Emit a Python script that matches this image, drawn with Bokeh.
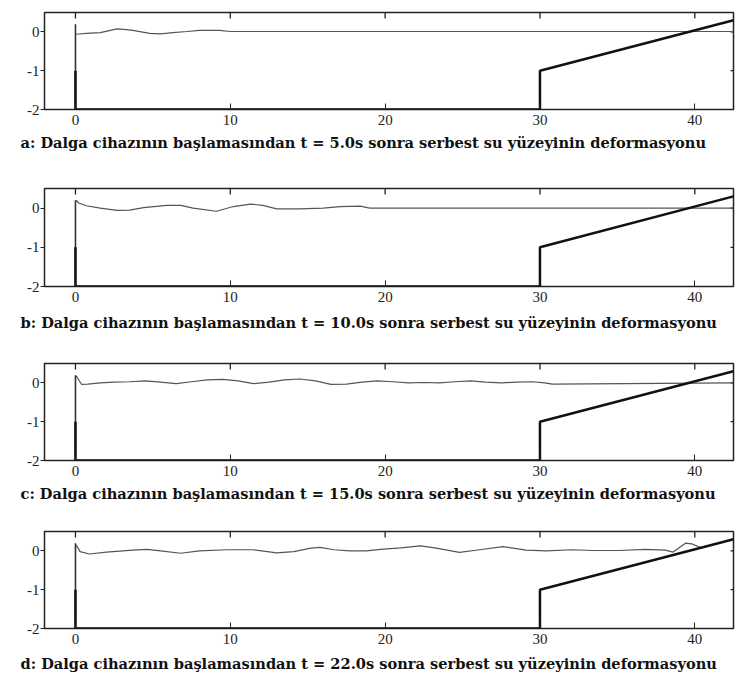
import math
from bokeh.plotting import figure
from bokeh.models import LinearAxis, FixedTicker, Title, Range1d
from bokeh.layouts import column
from bokeh.embed import file_html
from bokeh.resources import INLINE

# ---- data ----
x_ticks = [0, 10, 20, 30, 40]
x_tick_labels = ["0", "10", "20", "30", "40"]
y_ticks = [-2, -1, 0]
y_tick_labels = ["-2", "-1", "0"]

# bathymetry: flat bottom then beach slope
bottom_x = [0, 30, 30, 42.5]
bottom_y = [-2, -2, -1, 0.3]
# wave paddle at x = 0
paddle_x = [0, 0]
paddle_y = [-2, 0.2]
paddle_base_y = [-2, -1]

captions = [
    "a: Dalga cihazının başlamasından t = 5.0s sonra serbest su yüzeyinin deformasyonu",
    "b: Dalga cihazının başlamasından t = 10.0s sonra serbest su yüzeyinin deformasyonu",
    "c: Dalga cihazının başlamasından t = 15.0s sonra serbest su yüzeyinin deformasyonu",
    "d: Dalga cihazının başlamasından t = 22.0s sonra serbest su yüzeyinin deformasyonu",
]

surf_a_x = [0.05, 0.7, 1.6, 2.7, 3.3, 3.7, 4.8, 5.5, 6.3, 7.2, 8.0, 9.3, 10.0, 42.5]
surf_a_y = [-0.06, -0.04, -0.02, 0.08, 0.06, 0.04, -0.04, -0.05, -0.02, 0.01, 0.04, 0.04, 0.01, 0.01]

surf_b_x = [0.05, 0.2, 0.7, 1.6, 2.7, 3.5, 4.4, 5.9, 6.8, 7.6, 9.1, 10.2, 11.3, 12.1, 13.0,
            14.5, 16.0, 17.1, 18.4, 19.0, 19.5, 42.5]
surf_b_y = [0.2, 0.13, 0.06, 0.0, -0.06, -0.05, 0.01, 0.07, 0.07, 0.0, -0.08, 0.04, 0.1, 0.07, -0.02,
            -0.02, 0.0, 0.04, 0.05, 0.0, 0.0, 0.0]

surf_c_x = [0.05, 0.4, 0.8, 1.6, 2.5, 3.5, 4.5, 5.5, 6.5, 7.5, 8.5, 9.5, 10.5, 11.5, 12.5, 13.5,
            14.5, 15.5, 16.5, 17.5, 18.5, 19.5, 20.5, 21.5, 22.5, 23.5, 24.5, 25.5, 26.5, 27.5,
            28.5, 29.5, 30.3, 30.8, 42.5]
surf_c_y = [0.18, -0.04, -0.03, 0.0, 0.02, 0.03, 0.05, 0.02, -0.02, 0.03, 0.08, 0.09, 0.05, -0.02,
            0.02, 0.08, 0.1, 0.05, -0.04, -0.03, 0.02, 0.05, 0.03, 0.0, 0.01, 0.0, 0.03, 0.05, 0.02,
            0.0, 0.02, 0.03, 0.0, -0.03, 0.0]

surf_d_x = [0.05, 0.3, 0.9, 2.0, 3.7, 4.6, 5.5, 6.8, 8.0, 9.8, 11.5, 13.0, 14.1, 15.2, 15.8, 16.7,
            17.7, 18.8, 19.7, 21.0, 22.3, 23.3, 24.8, 26.1, 27.6, 29.1, 30.4, 32.1, 33.4, 35.1,
            36.8, 38.1, 38.6, 39.4, 39.8, 40.4]
surf_d_y = [0.15, -0.02, -0.08, -0.03, 0.02, 0.04, 0.0, -0.06, 0.0, 0.03, 0.03, -0.05, -0.02, 0.07,
            0.09, 0.03, 0.0, 0.0, 0.04, 0.08, 0.13, 0.07, -0.04, 0.03, 0.11, 0.02, 0.0, 0.03, 0.01,
            0.01, 0.04, 0.02, -0.03, 0.2, 0.18, 0.08]

surfaces = [(surf_a_x, surf_a_y), (surf_b_x, surf_b_y), (surf_c_x, surf_c_y), (surf_d_x, surf_d_y)]

# ---- layout (pixels) ----
X_MIN, X_MAX = -2, 42.5
Y_MIN, Y_MAX = -2, 0.5
fig_heights = [184, 176, 165, 152]
top_borders = [12, 4, 3, 6]
frame_heights = [97, 98, 97, 97]
title_standoffs = [8, 15, 8, 12]

TICK_FONT = "Liberation Serif"
CAP_FONT = "DejaVu Serif"
INK = "#222222"


def make_panel(sx, sy, caption, height, top, frame_h, standoff):
    p = figure(width=737, height=height, x_range=Range1d(X_MIN, X_MAX), y_range=Range1d(Y_MIN, Y_MAX),
               output_backend="svg", toolbar_location=None,
               x_axis_location=None, y_axis_location=None,
               min_border_left=44, min_border_right=4, min_border_top=top,
               min_border_bottom=height - top - frame_h)
    p.grid.visible = False
    p.outline_line_color = INK
    p.outline_line_width = 1.5
    p.background_fill_color = "white"
    p.border_fill_color = "white"

    xb = LinearAxis(ticker=FixedTicker(ticks=x_ticks),
                    major_label_overrides={t: l for t, l in zip(x_ticks, x_tick_labels)},
                    major_tick_in=6, major_tick_out=0, minor_tick_line_color=None,
                    axis_line_color=None, major_tick_line_color=INK,
                    major_label_standoff=5, major_label_text_font=TICK_FONT,
                    major_label_text_font_size="15px", major_label_text_color=INK)
    p.add_layout(xb, "below")

    yl = LinearAxis(ticker=FixedTicker(ticks=y_ticks),
                    major_label_overrides={t: l for t, l in zip(y_ticks, y_tick_labels)},
                    major_tick_in=0, major_tick_out=4, minor_tick_line_color=None,
                    axis_line_color=None, major_tick_line_color=INK,
                    major_label_standoff=1, major_label_text_font=TICK_FONT,
                    major_label_text_font_size="15px", major_label_text_color=INK)
    p.add_layout(yl, "left")

    # small inward ticks along the top edge of the frame
    p.ray(x=x_ticks, y=[Y_MAX] * len(x_ticks), length=6, length_units="screen",
          angle=-math.pi / 2, line_color=INK, line_width=1.3)
    # small inward ticks along the right edge of the frame
    p.ray(x=[X_MAX, X_MAX], y=y_ticks[1:], length=3, length_units="screen",
          angle=math.pi, line_color=INK, line_width=1.3)

    p.add_layout(Title(text=caption, align="left", offset=-24, standoff=standoff,
                       text_font=CAP_FONT, text_font_size="14.6px", text_font_style="bold",
                       text_color="#111111"), "below")

    # water surface
    p.line(sx, sy, line_color="#555555", line_width=1.2)
    # paddle
    p.line(paddle_x, paddle_y, line_color="#333333", line_width=1.6)
    p.line(paddle_x, paddle_base_y, line_color="#111111", line_width=2.5)
    # bottom / beach
    p.line(bottom_x, bottom_y, line_color="#111111", line_width=2.5)
    return p


panels = [make_panel(s[0], s[1], c, h, t, fh, so)
          for s, c, h, t, fh, so in zip(surfaces, captions, fig_heights, top_borders,
                                        frame_heights, title_standoffs)]

layout = column(*panels, spacing=0)

with open("out.html", "w") as f:
    f.write(file_html(layout, INLINE))
